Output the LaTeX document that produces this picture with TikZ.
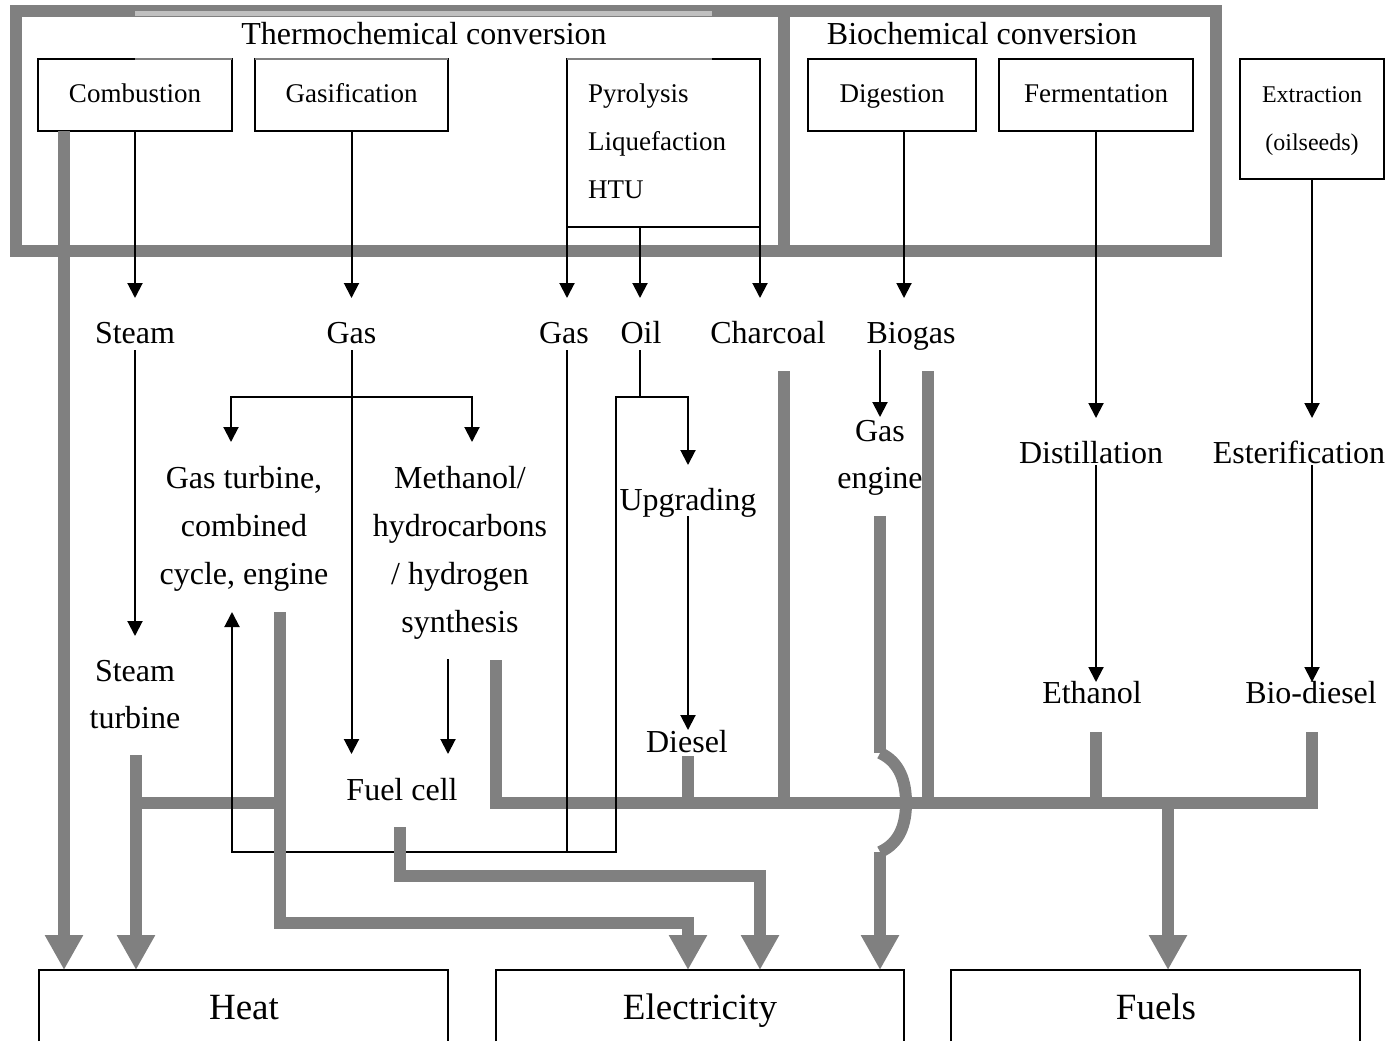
\documentclass[tikz,border=0pt]{standalone}
\usepackage{fontspec}
\setmainfont{Liberation Serif}
\usetikzlibrary{arrows.meta}
\definecolor{pipegray}{HTML}{808080}
\definecolor{stripgray}{HTML}{C0C0C0}
\begin{document}
\begin{tikzpicture}[x=1pt,y=-1pt,
  box/.style={draw=black,line width=2pt,inner sep=0pt,outer sep=0pt,text height=19pt,text depth=4pt,font=\fontsize{27}{32}\selectfont},
  lbl/.style={anchor=base,inner sep=0pt,font=\fontsize{32}{38}\selectfont},
  blbl/.style={anchor=base,inner sep=0pt,font=\fontsize{27}{32}\selectfont},
  slbl/.style={anchor=base,inner sep=0pt,font=\fontsize{24}{29}\selectfont},
  biglbl/.style={anchor=base,inner sep=0pt,font=\fontsize{37}{44}\selectfont},
  flow/.style={draw=black,line width=2pt,-{Triangle[length=15pt,width=15pt]}},
  link/.style={draw=black,line width=2pt},
  pipe/.style={draw=pipegray,line width=12pt},
  pipearr/.style={pipe,-{Triangle[length=35pt,width=36pt]}},
  frame/.style={draw=pipegray,line width=12pt},
  outbox/.style={draw=black,line width=2pt}]
\useasboundingbox (0,0) rectangle (1388,1041);
% frames
\draw[frame] (16,11) rectangle (784,251);
\draw[frame] (784,11) rectangle (1216,251);
\fill[stripgray] (135,11) rectangle (712,16.5);
\node[lbl] (thermo) at (424,45) {Thermochemical conversion};
\node[lbl] (bio) at (982,45) {Biochemical conversion};
% process boxes
\node[box,minimum width=194pt,minimum height=72pt] (comb) at (135,95) {Combustion};
\node[box,minimum width=193pt,minimum height=72pt] (gasif) at (351.5,95) {Gasification};
\node[box,minimum width=193pt,minimum height=168pt] (pyr) at (663.5,143) {};
\node[blbl,anchor=base west] (pyrt1) at (588,102) {Pyrolysis};
\node[blbl,anchor=base west] (pyrt2) at (588,150) {Liquefaction};
\node[blbl,anchor=base west] (pyrt3) at (588,198) {HTU};
\node[box,minimum width=168pt,minimum height=72pt] (dig) at (892,95) {Digestion};
\node[box,minimum width=194pt,minimum height=72pt] (ferm) at (1096,95) {Fermentation};
\node[box,minimum width=144pt,minimum height=120pt] (extr) at (1312,119) {};
\node[slbl] (extrt1) at (1312,102) {Extraction};
\node[slbl] (extrt2) at (1312,150) {(oilseeds)};
% grey top-edge artefacts
\draw[pipegray,line width=2pt] (135,59) -- (232,59) (255,59) -- (448,59) (567,59) -- (712,59);
% intermediate labels
\node[lbl] (steam) at (135,343) {Steam};
\node[lbl] (gas1) at (351.5,343) {Gas};
\node[lbl] (gas2) at (564,343) {Gas};
\node[lbl] (oil) at (641,343) {Oil};
\node[lbl] (charcoal) at (768,343) {Charcoal};
\node[lbl] (biogas) at (911,343) {Biogas};
\node[lbl] (gt1) at (244,488) {Gas turbine,};
\node[lbl] (gt2) at (244,536) {combined};
\node[lbl] (gt3) at (244,584) {cycle, engine};
\node[lbl] (me1) at (460,488) {Methanol/};
\node[lbl] (me2) at (460,536) {hydrocarbons};
\node[lbl] (me3) at (460,584) {/ hydrogen};
\node[lbl] (me4) at (460,632) {synthesis};
\node[lbl] (upg) at (688,510) {Upgrading};
\node[lbl] (ge1) at (880,441) {Gas};
\node[lbl] (ge2) at (880,488) {engine};
\node[lbl] (dist) at (1091,463) {Distillation};
\node[lbl] (ester) at (1299,463) {Esterification};
\node[lbl] (st1) at (135,681) {Steam};
\node[lbl] (st2) at (135,728) {turbine};
\node[lbl] (diesel) at (687,752) {Diesel};
\node[lbl] (fuelcell) at (402,800) {Fuel cell};
\node[lbl] (ethanol) at (1092,703) {Ethanol};
\node[lbl] (biodiesel) at (1311,703) {Bio-diesel};
% output boxes (open at the bottom)
\coordinate (heatL) at (39,970); \coordinate (heatR) at (448,970);
\coordinate (elecL) at (496,970); \coordinate (elecR) at (904,970);
\coordinate (fuelL) at (951,970); \coordinate (fuelR) at (1360,970);
\draw[outbox] (39,1041) -- (heatL) -- (heatR) -- (448,1041);
\draw[outbox] (496,1041) -- (elecL) -- (elecR) -- (904,1041);
\draw[outbox] (951,1041) -- (fuelL) -- (fuelR) -- (1360,1041);
\node[biglbl] (heat) at (244,1019) {Heat};
\node[biglbl] (elec) at (700,1019) {Electricity};
\node[biglbl] (fuels) at (1156,1019) {Fuels};
% grey buses drawn beneath thin lines
\draw[pipe] (496,660) -- (496,803) -- (1312,803) -- (1312,732);
\draw[pipe] (136,803) -- (280,803);
% thin black connectors
\draw[flow] (comb.south) -- (135,298);
\draw[flow] (gasif.south) -- (351.5,298);
\draw[flow] (pyr.south west) -- (567,298);
\draw[flow] (640,227) -- (640,298);
\draw[flow] (pyr.south east) -- (760,298);
\draw[flow] (904,131) -- (904,298);
\draw[flow] (ferm.south) -- (1096,418);
\draw[flow] (extr.south) -- (1312,418);
\draw[flow] (135,350) -- (135,636);
\draw[flow] (351.5,350) -- (351.5,754);
\draw[flow] (351.5,397) -| (231,442);
\draw[flow] (351.5,397) -| (472,442);
\draw[flow] (448,659) -- (448,754);
\draw[link] (567,350) -- (567,852);
\draw[link] (640,350) -- (640,397);
\draw[flow] (640,397) -| (688,465);
\draw[flow] (640,397) -- (616,397) -- (616,852) -- (232,852) -- (232,612);
\draw[flow] (688,516) -- (688,730);
\draw[flow] (880,350) -- (880,417);
\draw[flow] (1096,465) -- (1096,682);
\draw[flow] (1312,465) -- (1312,682);
% grey pipes on top
\draw[pipearr] (64,131) -- (64,970);
\draw[pipearr] (136,755) -- (136,970);
\draw[pipearr] (280,612) -- (280,923) -- (688,923) -- (688,970);
\draw[pipearr] (400,827) -- (400,876) -- (760,876) -- (760,970);
\draw[pipe] (688,756) -- (688,803);
\draw[pipe] (784,371) -- (784,803);
\draw[pipe] (928,371) -- (928,803);
\draw[pipe] (1096,732) -- (1096,803);
\draw[pipearr] (1168,803) -- (1168,970);
\draw[pipe] (880,516) -- (880,753);
\draw[pipe] (880,753) .. controls (900,762) and (906,782) .. (906,803) .. controls (906,824) and (900,843) .. (880,852);
\draw[pipearr] (880,852) -- (880,970);
\end{tikzpicture}
\end{document}
